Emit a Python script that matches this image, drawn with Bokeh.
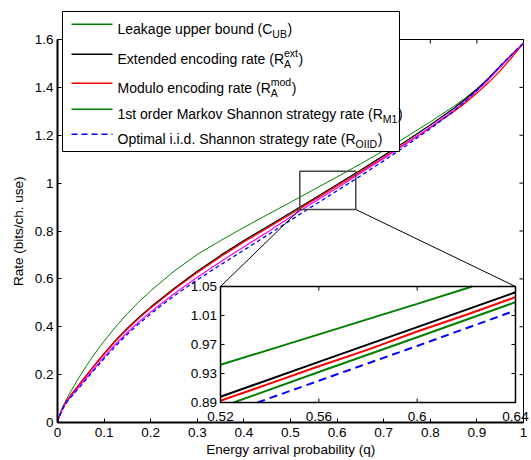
from bokeh.plotting import figure
from bokeh.models import Range1d, FixedTicker, Label, BoxAnnotation, Arrow
from bokeh.core.properties import value
from bokeh.embed import file_html
from bokeh.resources import INLINE

# ---------------- data ----------------
q = [0, 0.0025, 0.005, 0.01, 0.015, 0.02, 0.03, 0.04, 0.05, 0.0625, 0.075, 0.0875,
     0.1, 0.125, 0.15, 0.175, 0.2,
     0.25, 0.3, 0.35, 0.4, 0.45, 0.5, 0.55, 0.6, 0.65, 0.7, 0.75, 0.8, 0.85,
     0.875, 0.9, 0.925, 0.95, 0.975, 1.0]
c_ub = [0, 0.02, 0.035, 0.06, 0.08, 0.10, 0.135, 0.168, 0.2, 0.238, 0.274, 0.308,
        0.34, 0.4, 0.455, 0.505, 0.55,
        0.632, 0.702, 0.76, 0.815, 0.868, 0.92, 0.973, 1.026, 1.08, 1.136, 1.195, 1.256, 1.32,
        1.355, 1.394, 1.437, 1.484, 1.534, 1.585]
r_ext = [0, 0.018, 0.03, 0.055, 0.074, 0.09, 0.117, 0.142, 0.167, 0.198, 0.228, 0.258,
         0.288, 0.344, 0.394, 0.44, 0.482,
         0.56, 0.632, 0.698, 0.76, 0.818, 0.876, 0.935, 0.994, 1.054, 1.115, 1.178, 1.243, 1.312,
         1.35, 1.392, 1.438, 1.488, 1.537, 1.585]
r_mod = [0, 0.018, 0.03, 0.055, 0.074, 0.09, 0.117, 0.142, 0.167, 0.198, 0.228, 0.2575,
         0.286, 0.341, 0.391, 0.436, 0.478,
         0.5555, 0.6265, 0.6925, 0.7545, 0.812, 0.87, 0.929, 0.988, 1.047, 1.107, 1.169, 1.232, 1.298,
         1.335, 1.376, 1.42, 1.469, 1.525, 1.585]
r_m1 = [0, 0.018, 0.03, 0.053, 0.071, 0.087, 0.111, 0.135, 0.158, 0.188, 0.217, 0.246,
        0.274, 0.328, 0.377, 0.421, 0.462,
        0.538, 0.607, 0.672, 0.734, 0.795, 0.858, 0.92, 0.98, 1.041, 1.103, 1.167, 1.233, 1.303,
        1.342, 1.385, 1.432, 1.485, 1.535, 1.585]
r_oiid = [0, 0.017, 0.029, 0.052, 0.07, 0.085, 0.108, 0.131, 0.153, 0.182, 0.211, 0.239,
          0.267, 0.32, 0.369, 0.413, 0.454,
          0.529, 0.596, 0.659, 0.72, 0.782, 0.845, 0.907, 0.968, 1.03, 1.093, 1.159, 1.227, 1.3,
          1.342, 1.388, 1.437, 1.49, 1.538, 1.585]

# zoomed inset (q in [0.52, 0.64])
ins_cub_q = [0.52, 0.56, 0.60, 0.6224]
ins_cub = [0.942, 0.984, 1.026, 1.05]
ins_ext_q = [0.52, 0.56, 0.60, 0.64]
ins_ext = [0.898, 0.946, 0.994, 1.042]
ins_mod_q = [0.52, 0.54, 0.56, 0.58, 0.60, 0.62, 0.64]
ins_mod = [0.8925, 0.916, 0.940, 0.963, 0.988, 1.011, 1.0353]
ins_m1_q = [0.5253, 0.56, 0.60, 0.64]
ins_m1 = [0.89, 0.932, 0.980, 1.0284]
ins_oiid_q = [0.535, 0.56, 0.60, 0.64]
ins_oiid = [0.89, 0.920, 0.968, 1.0169]

x_ticks = [0, 0.1, 0.2, 0.3, 0.4, 0.5, 0.6, 0.7, 0.8, 0.9, 1]
x_tick_labels = ["0", "0.1", "0.2", "0.3", "0.4", "0.5", "0.6", "0.7", "0.8", "0.9", "1"]
y_ticks = [0, 0.2, 0.4, 0.6, 0.8, 1, 1.2, 1.4, 1.6]
y_tick_labels = ["0", "0.2", "0.4", "0.6", "0.8", "1", "1.2", "1.4", "1.6"]
inset_x_ticks = [0.52, 0.56, 0.6, 0.64]
inset_x_labels = ["0.52", "0.56", "0.6", "0.64"]
inset_y_ticks = [0.89, 0.93, 0.97, 1.01, 1.05]
inset_y_labels = ["0.89", "0.93", "0.97", "1.01", "1.05"]
INSET_X = (0.52, 0.64)
INSET_Y = (0.89, 1.05)

x_title = "Energy arrival probability (q)"
y_title = "Rate (bits/ch. use)"

legend_entries = [
    ("Leakage upper bound (C", "", "UB", "#008000", None),
    ("Extended encoding rate (R", "ext", "A", "black", None),
    ("Modulo encoding rate (R", "mod", "A", "red", None),
    ("1st order Markov Shannon strategy rate (R", "", "M1", "#008000", None),
    ("Optimal i.i.d. Shannon strategy rate (R", "", "OIID", "blue", "6 4"),
]

FONT = "Liberation Sans"

# ---------------- layout ----------------
W, H = 531, 460
AL, AR, AT, AB = 57, 523, 39, 422      # axes box in pixels
FT, FR = 2, 531                        # frame extends to these so legend/inset labels are not clipped
XR = (0, 1)
YR = (0, 1.6)
NBSP = "\u00a0"


def dx(px):
    return XR[0] + (px - AL) / (AR - AL) * (XR[1] - XR[0])


def dy(py):
    return YR[0] + (AB - py) / (AB - AT) * (YR[1] - YR[0])


p = figure(width=W, height=H, x_range=Range1d(XR[0], dx(FR)), y_range=Range1d(YR[0], dy(FT)),
           output_backend="svg", toolbar_location=None,
           min_border_left=AL, min_border_right=W - FR, min_border_top=FT, min_border_bottom=H - AB)
p.grid.visible = False
p.outline_line_color = None
p.background_fill_color = "white"
p.border_fill_color = "white"

for ax, ticks, labels, bounds in ((p.xaxis[0], x_ticks, x_tick_labels, XR),
                                  (p.yaxis[0], y_ticks, y_tick_labels, YR)):
    ax.ticker = FixedTicker(ticks=ticks)
    ax.bounds = bounds
    ax.major_label_overrides = dict(zip(ticks, labels))
    ax.major_tick_in = 4
    ax.major_tick_out = 0
    ax.minor_tick_in = 0
    ax.minor_tick_out = 0
    ax.axis_line_width = 2
    ax.major_tick_line_width = 1
    ax.major_label_text_font = FONT
    ax.major_label_text_font_size = "13.5px"
    ax.major_label_text_color = "black"
    ax.axis_label_text_font = FONT
    ax.axis_label_text_font_size = "13.5px"
    ax.axis_label_text_font_style = "normal"
    ax.axis_label_text_color = "black"

# axis titles are centred on the (extended) frame; pad with no-break spaces to centre them on the box
p.xaxis.axis_label = x_title + NBSP * 2
p.yaxis.axis_label = y_title + NBSP * 10
p.xaxis.major_label_standoff = 5
p.xaxis.axis_label_standoff = 2
p.yaxis.major_label_standoff = 4
p.yaxis.axis_label_standoff = 6

# top and right sides of the axes box, with inward ticks
tlx = 4 * (XR[1] - XR[0]) / (AR - AL)
tly = 4 * (YR[1] - YR[0]) / (AB - AT)
p.segment(x0=[XR[0], XR[1]], y0=[YR[1], YR[0]], x1=[XR[1], XR[1]], y1=[YR[1], YR[1]],
          line_color="black", line_width=1)
p.segment(x0=x_ticks, y0=[YR[1]] * len(x_ticks), x1=x_ticks, y1=[YR[1] - tly] * len(x_ticks),
          line_color="black", line_width=1)
p.segment(x0=[XR[1]] * len(y_ticks), y0=y_ticks, x1=[XR[1] - tlx] * len(y_ticks), y1=y_ticks,
          line_color="black", line_width=1)

# ---------------- main curves ----------------
p.line(q, c_ub, line_color="#008000", line_width=1)
p.line(q, r_ext, line_color="black", line_width=1.3)
p.line(q, r_mod, line_color="red", line_width=1.3)
p.line(q, r_m1, line_color="magenta", line_width=1.2)
p.line(q, r_oiid, line_color="blue", line_width=1.3, line_dash="4 3")

# ---------------- zoom box & connectors ----------------
IX0, IX1, IY0, IY1 = dx(220), dx(515), dy(402), dy(286)
p.quad(left=[INSET_X[0]], right=[INSET_X[1]], bottom=[INSET_Y[0]], top=[INSET_Y[1]],
       fill_color=None, line_color="#444444", line_width=1.5)
p.segment(x0=[INSET_X[0], INSET_X[1]], y0=[INSET_Y[0], INSET_Y[0]],
          x1=[IX0, IX1], y1=[IY1, IY1], line_color="black", line_width=1)

# ---------------- inset ----------------
sub = p.subplot(x_source=Range1d(*INSET_X), y_source=Range1d(*INSET_Y),
                x_target=Range1d(IX0, IX1), y_target=Range1d(IY0, IY1))
sub.quad(left=[INSET_X[0]], right=[INSET_X[1]], bottom=[INSET_Y[0]], top=[INSET_Y[1]],
         fill_color="white", line_color=None)
sub.line(ins_cub_q, ins_cub, line_color="#008000", line_width=2)
sub.line(ins_ext_q, ins_ext, line_color="black", line_width=2)
sub.line(ins_mod_q, ins_mod, line_color="red", line_width=2)
sub.line(ins_m1_q, ins_m1, line_color="#008000", line_width=2)
sub.line(ins_oiid_q, ins_oiid, line_color="blue", line_width=2, line_dash="8 5")

itx = 4 * (INSET_X[1] - INSET_X[0]) / (515 - 220)
ity = 4 * (INSET_Y[1] - INSET_Y[0]) / (402 - 286)
nx, ny = len(inset_x_ticks), len(inset_y_ticks)
sub.segment(x0=inset_x_ticks, y0=[INSET_Y[0]] * nx, x1=inset_x_ticks, y1=[INSET_Y[0] + ity] * nx,
            line_color="black", line_width=1)
sub.segment(x0=inset_x_ticks, y0=[INSET_Y[1]] * nx, x1=inset_x_ticks, y1=[INSET_Y[1] - ity] * nx,
            line_color="black", line_width=1)
sub.segment(x0=[INSET_X[0]] * ny, y0=inset_y_ticks, x1=[INSET_X[0] + itx] * ny, y1=inset_y_ticks,
            line_color="black", line_width=1)
sub.segment(x0=[INSET_X[1]] * ny, y0=inset_y_ticks, x1=[INSET_X[1] - itx] * ny, y1=inset_y_ticks,
            line_color="black", line_width=1)
sub.quad(left=[INSET_X[0]], right=[INSET_X[1]], bottom=[INSET_Y[0]], top=[INSET_Y[1]],
         fill_color=None, line_color="black", line_width=1.5)
sub.text(x=inset_x_ticks, y=[INSET_Y[0]] * nx, text=inset_x_labels,
         text_font=value(FONT), text_font_size=value("13.5px"), text_align="center",
         text_baseline="middle", y_offset=14, text_color="black")
sub.text(x=[INSET_X[0]] * ny, y=inset_y_ticks, text=inset_y_labels,
         text_font=value(FONT), text_font_size=value("13.5px"), text_align="right",
         text_baseline="middle", x_offset=-3.5, text_color="black")

# ---------------- legend (manual, for sub/superscripts) ----------------
AW = {' ': 278, '(': 333, ')': 333, '.': 278, '1': 556, 'A': 667, 'B': 667, 'C': 722, 'D': 722,
      'E': 667, 'I': 278, 'L': 556, 'M': 833, 'O': 778, 'R': 722, 'S': 667, 'U': 722,
      'a': 556, 'b': 556, 'c': 500, 'd': 556, 'e': 556, 'g': 556, 'h': 556, 'i': 222, 'k': 500,
      'l': 222, 'm': 833, 'n': 556, 'o': 556, 'p': 556, 'r': 333, 's': 500, 't': 278, 'u': 556,
      'v': 500, 'x': 500, 'y': 500}


def tw(s, size):
    return sum(AW.get(ch, 556) for ch in s) * size / 1000.0


p.add_layout(BoxAnnotation(left=dx(62), right=dx(399), top=dy(11), bottom=dy(151),
                           fill_color="white", fill_alpha=1, line_color="black",
                           line_alpha=1, line_width=1))
baselines = [28.3, 58.3, 87.3, 113.3, 138.3]
MS, SS = 14, 10.5
for (main, sup, subs, color, dash), yb in zip(legend_entries, baselines):
    p.add_layout(Arrow(x_start=dx(71), y_start=dy(yb - 4.5), x_end=dx(112), y_end=dy(yb - 4.5),
                       end=None, line_color=color, line_width=1.5,
                       line_dash=dash if dash else "solid"))
    x = 117
    p.add_layout(Label(x=dx(x), y=dy(yb), text=main, text_font=FONT, text_font_size=f"{MS}px",
                       text_baseline="alphabetic", text_align="left", text_color="black"))
    x += tw(main, MS)
    w = 0
    if sup:
        p.add_layout(Label(x=dx(x), y=dy(yb - 5.5), text=sup, text_font=FONT,
                           text_font_size=f"{SS}px", text_baseline="alphabetic",
                           text_align="left", text_color="black"))
        w = max(w, tw(sup, SS))
    p.add_layout(Label(x=dx(x), y=dy(yb + 5.5), text=subs, text_font=FONT,
                       text_font_size=f"{SS}px", text_baseline="alphabetic",
                       text_align="left", text_color="black"))
    w = max(w, tw(subs, SS))
    x += w + 0.5
    p.add_layout(Label(x=dx(x), y=dy(yb), text=")", text_font=FONT, text_font_size=f"{MS}px",
                       text_baseline="alphabetic", text_align="left", text_color="black"))

open("out.html", "w").write(file_html(p, INLINE))
